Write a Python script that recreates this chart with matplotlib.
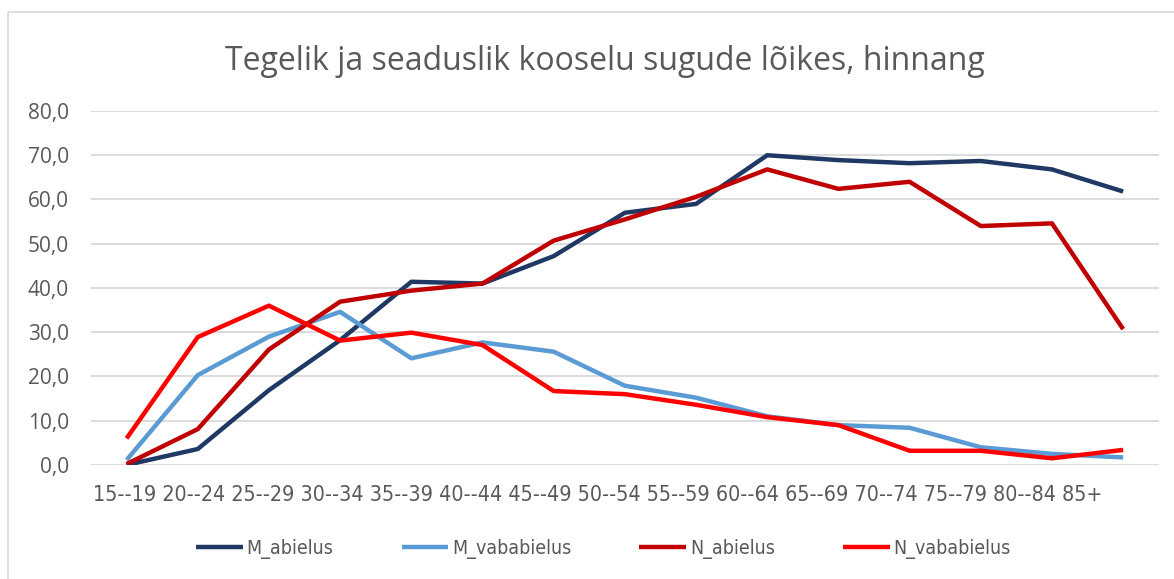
import matplotlib
matplotlib.use("Agg")
import matplotlib.pyplot as plt
from matplotlib.patches import Rectangle

categories = ["15--19", "20--24", "25--29", "30--34", "35--39", "40--44", "45--49", "50--54",
              "55--59", "60--64", "65--69", "70--74", "75--79", "80--84", "85+"]
m_abielus = [0.0, 3.6, 16.9, 28.2, 41.4, 41.0, 47.2, 57.0, 59.0, 70.0, 68.9, 68.2, 68.7, 66.8, 61.8]
m_vababielus = [1.1, 20.3, 29.0, 34.6, 24.1, 27.7, 25.6, 17.9, 15.2, 11.0, 9.0, 8.4, 4.0, 2.5, 1.7]
n_abielus = [0.2, 8.1, 26.1, 36.9, 39.4, 41.0, 50.7, 55.5, 60.6, 66.8, 62.4, 64.0, 54.0, 54.6, 30.7]
n_vababielus = [6.0, 28.9, 36.0, 28.1, 29.9, 27.1, 16.7, 16.0, 13.6, 10.8, 9.0, 3.2, 3.2, 1.5, 3.4]

series = [("M_abielus", m_abielus, "#1F3864"),
          ("M_vababielus", m_vababielus, "#5B9BD5"),
          ("N_abielus", n_abielus, "#C00000"),
          ("N_vababielus", n_vababielus, "#FF0000")]

txt = "#595959"

fig = plt.figure(figsize=(11.74, 5.79), dpi=100)
ax = fig.add_axes([0.0775, 0.197, 0.9095, 0.6113])

x = range(len(categories))
for name, vals, col in series:
    ax.plot(x, vals, color=col, lw=3.2, label=name, solid_capstyle="butt")

ax.set_xlim(-0.5, len(categories) - 0.5)
ax.set_ylim(0, 80)
ax.set_yticks(range(0, 81, 10))
ax.set_yticklabels([f"{v},0" for v in range(0, 81, 10)], fontsize=15, color=txt, family="Open Sans")
ax.yaxis.grid(True, color="#D9D9D9", lw=1.3)
ax.set_axisbelow(True)
ax.tick_params(length=0, pad=16)
ax.set_xticks(list(x))
ax.set_xticklabels([])
for s in ax.spines.values():
    s.set_visible(False)

# Excel squeezes the category labels into one left-aligned row
fig.text(0.079, 0.145, " ".join(categories), fontsize=15.4, color=txt, family="DejaVu Sans",
         fontstretch="condensed", ha="left", va="center")

fig.text(0.515, 0.893, "Tegelik ja seaduslik kooselu sugude lõikes, hinnang", fontsize=23,
         color=txt, family="Open Sans", ha="center", va="center")

leg = fig.legend(loc="center", bbox_to_anchor=(0.514, 0.052), ncol=4, frameon=False,
                 handlelength=2.4, columnspacing=3.5, handletextpad=0.2,
                 prop={"family": "DejaVu Sans", "stretch": "condensed", "size": 14})
for t in leg.get_texts():
    t.set_color(txt)

# chart frame: only left and top edges fall inside the image
fig.patches.append(Rectangle((0.0068, -0.1), 1.2, 1.079, transform=fig.transFigure,
                             fill=False, edgecolor="#D9D9D9", lw=1.2))

fig.savefig("out.png", dpi=100)
